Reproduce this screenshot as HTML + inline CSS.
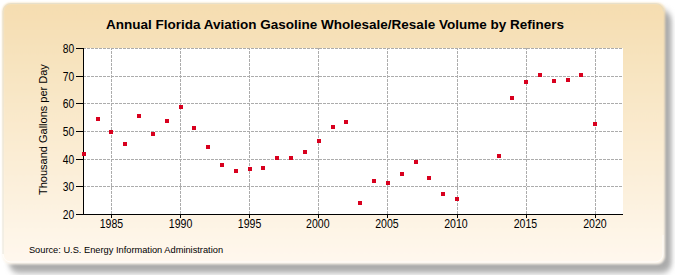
<!DOCTYPE html>
<html><head><meta charset="utf-8"><style>
html,body{margin:0;padding:0;background:#fff;}
body{width:675px;height:275px;overflow:hidden;position:relative;}
svg{position:absolute;left:0;top:0;}
text{font-family:"Liberation Sans",sans-serif;fill:#000;}
</style></head><body>
<svg width="675" height="275" viewBox="0 0 675 275">
<defs>
<linearGradient id="bg" x1="0" y1="0" x2="0" y2="1">
<stop offset="0" stop-color="#F5DDB0"/>
<stop offset="1" stop-color="#FFF8EE"/>
</linearGradient>
<filter id="sh" x="-5%" y="-5%" width="110%" height="115%">
<feGaussianBlur stdDeviation="2.5 3"/>
</filter>
<filter id="soft" x="-2%" y="-2%" width="104%" height="104%">
<feGaussianBlur stdDeviation="1.2"/>
</filter>
</defs>
<rect x="9" y="10" width="662.5" height="263" rx="10" ry="10" fill="#AAAAAA" filter="url(#sh)"/>
<rect x="2.5" y="3" width="662.5" height="261.3" rx="8" ry="8" fill="url(#bg)" filter="url(#soft)"/>
<path d="M3,254 L3,11.5 A8,8 0 0 1 11,3.5 L655.5,3.5 A8,8 0 0 1 663.5,11.5" fill="none" stroke="#D8D8CC" stroke-opacity="0.55" stroke-width="1"/>
<path d="M663,235 L663,254 A8,8 0 0 1 655,262 L11,262 A8,8 0 0 1 3,254" fill="none" stroke="#FFFFFF" stroke-opacity="0.7" stroke-width="1"/>
<rect x="84" y="48" width="539" height="166" fill="#fff"/>
<g stroke="#acacac" stroke-width="1" stroke-dasharray="3,1" stroke-dashoffset="1" shape-rendering="crispEdges">
<line x1="84" y1="48.5" x2="623" y2="48.5"/><line x1="84" y1="76.5" x2="623" y2="76.5"/><line x1="84" y1="103.5" x2="623" y2="103.5"/><line x1="84" y1="131.5" x2="623" y2="131.5"/><line x1="84" y1="159.5" x2="623" y2="159.5"/><line x1="84" y1="186.5" x2="623" y2="186.5"/><line x1="111.5" y1="48" x2="111.5" y2="214"/><line x1="180.5" y1="48" x2="180.5" y2="214"/><line x1="249.5" y1="48" x2="249.5" y2="214"/><line x1="318.5" y1="48" x2="318.5" y2="214"/><line x1="387.5" y1="48" x2="387.5" y2="214"/><line x1="457.5" y1="48" x2="457.5" y2="214"/><line x1="526.5" y1="48" x2="526.5" y2="214"/><line x1="595.5" y1="48" x2="595.5" y2="214"/>
</g>
<g stroke="#000" stroke-width="1" shape-rendering="crispEdges">
<line x1="83.5" y1="48" x2="83.5" y2="215"/>
<line x1="83" y1="214.5" x2="623" y2="214.5"/>
<line x1="76" y1="48.5" x2="83" y2="48.5"/><line x1="76" y1="76.5" x2="83" y2="76.5"/><line x1="76" y1="103.5" x2="83" y2="103.5"/><line x1="76" y1="131.5" x2="83" y2="131.5"/><line x1="76" y1="159.5" x2="83" y2="159.5"/><line x1="76" y1="186.5" x2="83" y2="186.5"/><line x1="76" y1="214.5" x2="83" y2="214.5"/>
<line x1="111.5" y1="214" x2="111.5" y2="218"/><line x1="180.5" y1="214" x2="180.5" y2="218"/><line x1="249.5" y1="214" x2="249.5" y2="218"/><line x1="318.5" y1="214" x2="318.5" y2="218"/><line x1="387.5" y1="214" x2="387.5" y2="218"/><line x1="457.5" y1="214" x2="457.5" y2="218"/><line x1="526.5" y1="214" x2="526.5" y2="218"/><line x1="595.5" y1="214" x2="595.5" y2="218"/>
</g>
<g font-size="12">
<text transform="translate(74.2,52.7) scale(0.86,1)" text-anchor="end">80</text><text transform="translate(74.2,80.7) scale(0.86,1)" text-anchor="end">70</text><text transform="translate(74.2,107.7) scale(0.86,1)" text-anchor="end">60</text><text transform="translate(74.2,135.7) scale(0.86,1)" text-anchor="end">50</text><text transform="translate(74.2,163.7) scale(0.86,1)" text-anchor="end">40</text><text transform="translate(74.2,190.7) scale(0.86,1)" text-anchor="end">30</text><text transform="translate(74.2,218.7) scale(0.86,1)" text-anchor="end">20</text>
<text transform="translate(111.4,228) scale(0.88,1)" text-anchor="middle">1985</text><text transform="translate(180.6,228) scale(0.88,1)" text-anchor="middle">1990</text><text transform="translate(249.6,228) scale(0.88,1)" text-anchor="middle">1995</text><text transform="translate(317.8,228) scale(0.88,1)" text-anchor="middle">2000</text><text transform="translate(386.9,228) scale(0.88,1)" text-anchor="middle">2005</text><text transform="translate(455.9,228) scale(0.88,1)" text-anchor="middle">2010</text><text transform="translate(525.4,228) scale(0.88,1)" text-anchor="middle">2015</text><text transform="translate(594.9,228) scale(0.88,1)" text-anchor="middle">2020</text>
</g>
<g fill="#D8001E" shape-rendering="crispEdges">
<rect x="82" y="152" width="4" height="4"/><rect x="96" y="117" width="4" height="4"/><rect x="109" y="130" width="4" height="4"/><rect x="123" y="142" width="4" height="4"/><rect x="137" y="114" width="4" height="4"/><rect x="151" y="132" width="4" height="4"/><rect x="165" y="119" width="4" height="4"/><rect x="179" y="105" width="4" height="4"/><rect x="192" y="126" width="4" height="4"/><rect x="206" y="145" width="4" height="4"/><rect x="220" y="163" width="4" height="4"/><rect x="234" y="169" width="4" height="4"/><rect x="248" y="167" width="4" height="4"/><rect x="261" y="166" width="4" height="4"/><rect x="275" y="156" width="4" height="4"/><rect x="289" y="156" width="4" height="4"/><rect x="303" y="150" width="4" height="4"/><rect x="317" y="139" width="4" height="4"/><rect x="331" y="125" width="4" height="4"/><rect x="344" y="120" width="4" height="4"/><rect x="358" y="201" width="4" height="4"/><rect x="372" y="179" width="4" height="4"/><rect x="386" y="181" width="4" height="4"/><rect x="400" y="172" width="4" height="4"/><rect x="414" y="160" width="4" height="4"/><rect x="427" y="176" width="4" height="4"/><rect x="441" y="192" width="4" height="4"/><rect x="455" y="197" width="4" height="4"/><rect x="497" y="154" width="4" height="4"/><rect x="510" y="96" width="4" height="4"/><rect x="524" y="80" width="4" height="4"/><rect x="538" y="73" width="4" height="4"/><rect x="552" y="79" width="4" height="4"/><rect x="566" y="78" width="4" height="4"/><rect x="579" y="73" width="4" height="4"/><rect x="593" y="122" width="4" height="4"/>
</g>
<text x="335" y="28.5" text-anchor="middle" font-size="13.5" font-weight="bold">Annual Florida Aviation Gasoline Wholesale/Resale Volume by Refiners</text>
<text transform="translate(46.8,129.6) rotate(-90)" text-anchor="middle" font-size="11">Thousand Gallons per Day</text>
<text x="28.9" y="252.9" font-size="9.28">Source: U.S. Energy Information Administration</text>
</svg>
</body></html>
